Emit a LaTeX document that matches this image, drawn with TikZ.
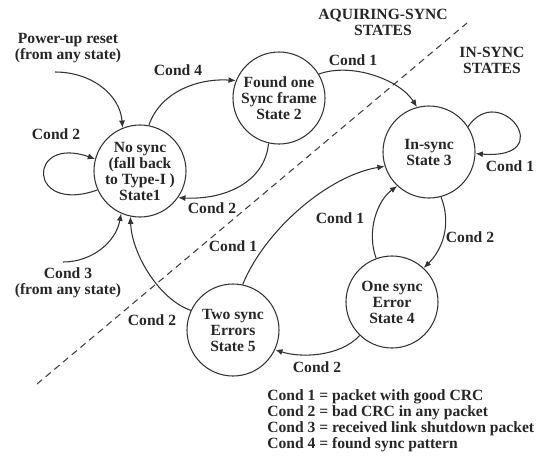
\documentclass[tikz,border=0pt]{standalone}
\usepackage{fontspec}
\setmainfont{Liberation Serif}
\usetikzlibrary{arrows.meta}

\begin{document}
\begin{tikzpicture}[x=0.75pt,y=0.75pt,yscale=-1,xscale=1,
  font=\bfseries\fontsize{11.7}{12}\selectfont,
  state/.style={draw=black!80,line width=0.8pt,circle,minimum size=69pt,inner sep=0pt,align=center,text=black!85},
  txt/.style={inner sep=0.75pt,align=center,text=black!85},
  trans/.style={draw=black!80,line width=0.8pt,-{Latex[length=5.5pt,width=4.5pt]}}]
\useasboundingbox (0,0) rectangle (540,455);

%Shape: Line [id:dashed border]
\coordinate (d1) at (37,384);
\coordinate (d2) at (467,23);
\draw [black!75,line width=0.8pt,dash pattern=on 5pt off 3.5pt] (d1) -- (d2);

%Shape: Circle [id:states]
\node [state] (s1) at (140,171) {No sync\\(fall back\\to Type-I )\\State1};
\node [state] (s2) at (279,98) {Found one\\Sync frame\\State 2};
\node [state] (s3) at (429,152) {In-sync\\State 3};
\node [state] (s4) at (392,302) {One sync\\Error\\State 4};
\node [state] (s5) at (233,330) {Two sync\\Errors\\State 5};

% Text Node
\node [txt] (reset) at (68,48) {Power-up reset\\(from any state)};
% Text Node
\node [txt] (shut) at (68,283) {Cond 3\\(from any state)};
% Text Node
\node [txt] (acq) at (383,22) {AQUIRING-SYNC\\STATES};
% Text Node
\node [txt] (ins) at (492,60) {IN-SYNC\\STATES};
% Text Node
\node [txt,anchor=west,align=left] (legend) at (266,421) {Cond 1 = packet with good CRC\\Cond 2 = bad CRC in any packet\\Cond 3 = received link shutdown packet\\Cond 4 = found sync pattern};

%Curve Lines
\coordinate (r0) at (55,72);
\coordinate (c0) at (63,262);
\draw [trans] (r0) .. controls (92,72) and (120,95) .. (s1.112);
\draw [trans] (c0) .. controls (92,262) and (116,242) .. (s1.246);
\draw [trans] (s1.204) .. controls (27,215) and (27,135) .. (s1.165);
\draw [trans] (s1.79) .. controls (160,92) and (198,78) .. (s2.158);
\draw [trans] (s2.257) .. controls (265,182) and (225,200) .. (s1.-35);
\draw [trans] (s2.31) .. controls (352,62) and (400,80) .. (s3.105);
\draw [trans] (s3.33) .. controls (500,80) and (560,160) .. (s3.-2);
\draw [trans] (s3.-75) .. controls (452,225) and (442,250) .. (s4.47);
\draw [trans] (s4.110) .. controls (366,230) and (378,200) .. (s3.227);
\draw [trans] (s4.226) .. controls (340,357) and (300,358) .. (s5.-25);
\draw [trans] (s5.78) .. controls (266,228) and (330,175) .. (s3.198);
\draw [trans] (s5.155) .. controls (160,300) and (132,255) .. (s1.258);

% Text Node
\node [txt] (l4) at (178,70) {Cond 4};
% Text Node
\node [txt] (l2a) at (56,134) {Cond 2};
% Text Node
\node [txt] (l2b) at (212,208) {Cond 2};
% Text Node
\node [txt] (l2c) at (152,320) {Cond 2};
% Text Node
\node [txt] (l1a) at (353,60) {Cond 1};
% Text Node
\node [txt] (l1b) at (510,166) {Cond 1};
% Text Node
\node [txt] (l1c) at (233,246) {Cond 1};
% Text Node
\node [txt] (l1d) at (340,218) {Cond 1};
% Text Node
\node [txt] (l2d) at (470,237) {Cond 2};
% Text Node
\node [txt] (l2e) at (317,367) {Cond 2};

\end{tikzpicture}
\end{document}
